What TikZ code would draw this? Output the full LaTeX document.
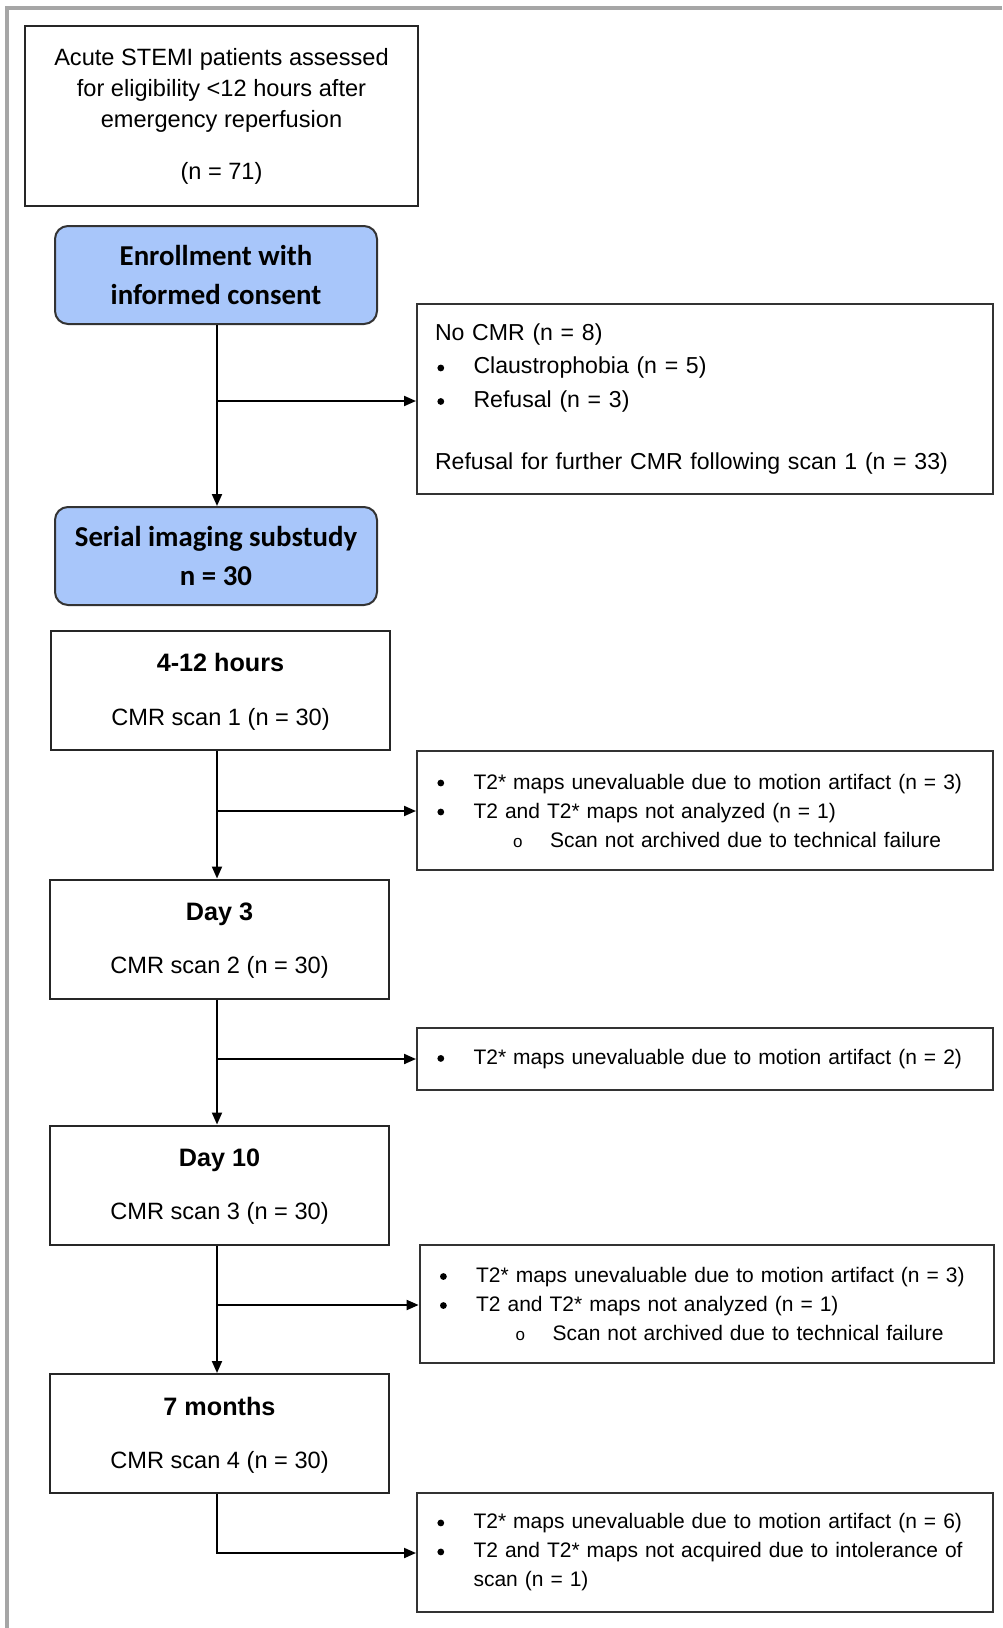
\documentclass[tikz,border=0pt]{standalone}
\usepackage{fontspec}
\setmainfont{Liberation Sans}
\newfontfamily\calib{Carlito}
\usetikzlibrary{arrows.meta}
\definecolor{framegray}{HTML}{A6A6A6}
\definecolor{blueA}{HTML}{A8C6FA}
\newcommand{\bul}{\makebox[19.25pt][l]{\hspace{1.2pt}\tikz[baseline=-3pt]\fill[black] (0,0) circle[radius=1.7pt];}}
\newcommand{\subbul}{\hspace{39pt}\makebox[18.5pt][l]{\fontsize{8.5pt}{8.5pt}\selectfont o}}
\begin{document}
\begin{tikzpicture}[x=0.5pt,y=-0.5pt,
  box/.style={draw=black!85, line width=1pt, inner sep=0pt, align=center,
    font=\fontsize{11.8pt}{15.5pt}\selectfont},
  bluebox/.style={draw=black!80, fill=blueA, rounded corners=6.5pt, line width=1pt,
    inner sep=0pt, align=center, minimum width=161pt, minimum height=49pt,
    font=\calib\bfseries\fontsize{14.4pt}{19.75pt}\selectfont},
  timebox/.style={box, minimum width=169.5pt, minimum height=59.5pt},
  boxtext/.style={box, draw=none},
  sidebox/.style={draw=black!80, line width=1pt, inner xsep=9pt, inner ysep=0pt,
    align=left, text width=270pt, font=\fontsize{10.5pt}{14.5pt}\selectfont},
  arr/.style={line width=1pt, -{Triangle[length=6pt,width=5pt]}}
]
\useasboundingbox (0,0) rectangle (1002,1628);
\fill[white] (0,0) rectangle (1002,1628);
\draw[framegray, line width=1.75pt] (7,1628) -- (7,8) -- (1002,8);

% main column
\node[box, minimum width=196.5pt, minimum height=90pt] (assess) at (221.5,116)
  {Acute STEMI patients assessed\\for eligibility <12 hours after\\emergency reperfusion\\[10.5pt](n = 71)};
\node[bluebox] (enroll) at (216,275) {Enrollment with\\informed consent};
\node[bluebox] (serial) at (216,556) {Serial imaging substudy\\n = 30};

\node[timebox] (t1) at (220.5,690.5) {};
\node[boxtext] (t1txt) at (220.5,692)
  {{\bfseries\fontsize{12.6pt}{15pt}\selectfont 4-12 hours}\\[11.3pt]CMR scan 1 (n = 30)};
\node[timebox] (d3) at (219.5,939) {};
\node[boxtext] (d3txt) at (219.5,940.5)
  {{\bfseries\fontsize{12.6pt}{15pt}\selectfont Day 3}\\[11.1pt]CMR scan 2 (n = 30)};
\node[timebox] (d10) at (219.5,1185) {};
\node[boxtext] (d10txt) at (219.5,1186.5)
  {{\bfseries\fontsize{12.6pt}{15pt}\selectfont Day 10}\\[11.1pt]CMR scan 3 (n = 30)};
\node[timebox] (m7) at (219.5,1433.5) {};
\node[boxtext] (m7txt) at (219.5,1435)
  {{\bfseries\fontsize{12.6pt}{15pt}\selectfont 7 months}\\[11.1pt]CMR scan 4 (n = 30)};

% side boxes
\node[sidebox, font=\fontsize{11.55pt}{16.75pt}\selectfont, minimum height=95pt] (nocmr) at (705,399)
  {No CMR (n = 8)\\\bul Claustrophobia (n = 5)\\\bul Refusal (n = 3)\\[14.25pt]Refusal for further CMR following scan 1 (n = 33)};
\node[sidebox, minimum height=59.5pt] (side2) at (705,810.5)
  {\bul T2* maps unevaluable due to motion artifact (n = 3)\\\bul T2 and T2* maps not analyzed (n = 1)\\\subbul Scan not archived due to technical failure};
\node[sidebox, minimum height=31pt] (side3) at (705,1059)
  {\bul T2* maps unevaluable due to motion artifact (n = 2)};
\node[sidebox, text width=269pt, minimum height=59pt] (side4) at (706.6,1304)
  {\bul T2* maps unevaluable due to motion artifact (n = 3)\\\bul T2 and T2* maps not analyzed (n = 1)\\\subbul Scan not archived due to technical failure};
\node[sidebox, minimum height=59.5pt] (side5) at (705,1552.5)
  {\bul T2* maps unevaluable due to motion artifact (n = 6)\\\bul T2 and T2* maps not acquired due to intolerance of\\\hspace{19.25pt}scan (n = 1)};

% connectors
\coordinate (j1) at (217,401);
\coordinate (j2) at (217,811);
\coordinate (j3) at (217,1059);
\coordinate (j4) at (217,1305);
\coordinate (j5) at (217,1553);
\draw[arr] (enroll.south -| j1) -- (serial.north -| j1);
\draw[arr] (j1) -- (j1 -| nocmr.west);
\draw[arr] (t1.south -| j2) -- (d3.north -| j2);
\draw[arr] (j2) -- (j2 -| side2.west);
\draw[arr] (d3.south -| j3) -- (d10.north -| j3);
\draw[arr] (j3) -- (j3 -| side3.west);
\draw[arr] (d10.south -| j4) -- (m7.north -| j4);
\draw[arr] (j4) -- (j4 -| side4.west);
\draw[arr] (m7.south -| j5) -- (j5) -- (j5 -| side5.west);
\end{tikzpicture}
\end{document}
